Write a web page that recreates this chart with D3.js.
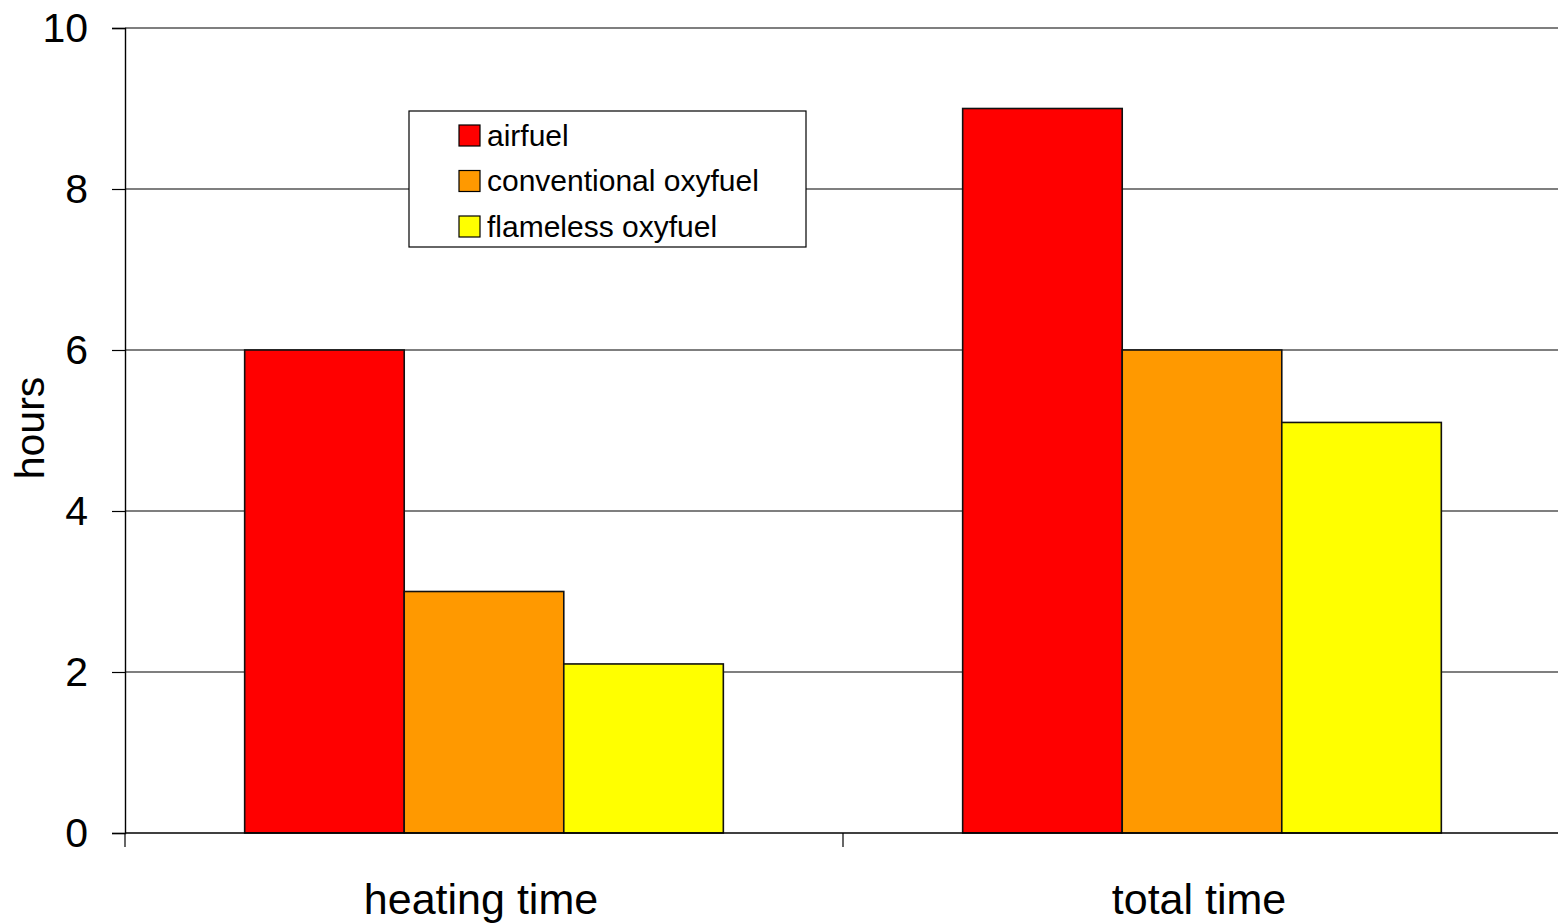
<!DOCTYPE html>
<html>
<head>
<meta charset="utf-8">
<script src="https://cdn.jsdelivr.net/npm/d3@7"></script>
<style>
  html, body { margin: 0; padding: 0; background: #fff; }
  svg { display: block; font-family: "Liberation Sans", Arial, sans-serif; }
</style>
</head>
<body>
<svg id="chart" width="1558" height="923"></svg>
<script>
// Heating and total processing time per burner technology
const categories = ["heating time", "total time"];
const seriesNames = ["airfuel", "conventional oxyfuel", "flameless oxyfuel"];
const airfuel = [6, 9];
const conventionalOxyfuel = [3, 6];
const flamelessOxyfuel = [2.1, 5.1];
const yTicks = [0, 2, 4, 6, 8, 10];
const seriesColors = ["#ff0000", "#ff9900", "#ffff00"];

const seriesValues = [airfuel, conventionalOxyfuel, flamelessOxyfuel];

const svg = d3.select("#chart");
const plotLeft = 125, plotRight = 1561, plotTop = 28, plotBottom = 833;

const x0 = d3.scaleBand().domain(categories).range([plotLeft, plotRight]).padding(0);
const x1 = d3.scaleBand().domain(seriesNames).range([0, x0.bandwidth()])
  .paddingInner(0).paddingOuter(0.75);
const y = d3.scaleLinear().domain([0, 10]).range([plotBottom, plotTop]);
const color = d3.scaleOrdinal().domain(seriesNames).range(seriesColors);

// Horizontal gridlines
svg.append("g")
  .selectAll("line")
  .data(yTicks.filter(t => t > 0))
  .join("line")
  .attr("x1", plotLeft).attr("x2", plotRight)
  .attr("y1", d => y(d)).attr("y2", d => y(d))
  .attr("stroke", "#000").attr("stroke-width", 1.2);

// Bars
const rows = [];
categories.forEach((c, ci) => {
  seriesNames.forEach((s, si) => rows.push({ cat: c, series: s, value: seriesValues[si][ci] }));
});
svg.append("g")
  .selectAll("rect")
  .data(rows)
  .join("rect")
  .attr("x", d => x0(d.cat) + x1(d.series))
  .attr("width", x1.bandwidth())
  .attr("y", d => y(d.value))
  .attr("height", d => y(0) - y(d.value))
  .attr("fill", d => color(d.series))
  .attr("stroke", "#111").attr("stroke-width", 1.6);

// Y axis
const yAxis = svg.append("g")
  .attr("transform", `translate(${plotLeft},0)`)
  .call(d3.axisLeft(y).tickValues(yTicks).tickSize(13).tickPadding(24).tickFormat(d3.format("d")));
yAxis.select(".domain").attr("stroke", "#000").attr("stroke-width", 1.4);
yAxis.selectAll(".tick line").attr("stroke", "#000").attr("stroke-width", 1.2);
yAxis.selectAll(".tick text")
  .attr("font-family", "Liberation Sans, Arial, sans-serif")
  .attr("font-size", 41).attr("fill", "#000").attr("dy", "0.34em");

// X axis baseline with category boundary ticks
svg.append("line")
  .attr("x1", plotLeft).attr("x2", plotRight).attr("y1", y(0)).attr("y2", y(0))
  .attr("stroke", "#000").attr("stroke-width", 1.4);
const boundaries = categories.map(c => x0(c)).concat([plotRight]);
svg.append("g")
  .selectAll("line")
  .data(boundaries)
  .join("line")
  .attr("x1", d => d).attr("x2", d => d)
  .attr("y1", y(0)).attr("y2", y(0) + 14)
  .attr("stroke", "#000").attr("stroke-width", 1.2);

svg.append("g")
  .selectAll("text")
  .data(categories)
  .join("text")
  .attr("x", d => x0(d) + x0.bandwidth() / 2 - 3)
  .attr("y", 914)
  .attr("text-anchor", "middle")
  .attr("font-size", 43)
  .text(d => d);

// Y axis title
svg.append("text")
  .attr("transform", "translate(44,428) rotate(-90)")
  .attr("text-anchor", "middle")
  .attr("font-size", 41)
  .text("hours");

// Legend
const legend = svg.append("g").attr("transform", "translate(409,111)");
legend.append("rect")
  .attr("width", 397).attr("height", 136)
  .attr("fill", "#fff").attr("stroke", "#000").attr("stroke-width", 1.2);
const item = legend.selectAll("g.item")
  .data(seriesNames)
  .join("g")
  .attr("class", "item")
  .attr("transform", (d, i) => `translate(50,${24 + i * 45.5})`);
item.append("rect")
  .attr("x", 0).attr("y", -10).attr("width", 21).attr("height", 21)
  .attr("fill", d => color(d)).attr("stroke", "#000").attr("stroke-width", 1.2);
item.append("text")
  .attr("x", 28).attr("y", 0).attr("dy", "0.35em")
  .attr("font-size", 30)
  .text(d => d);
</script>
</body>
</html>
